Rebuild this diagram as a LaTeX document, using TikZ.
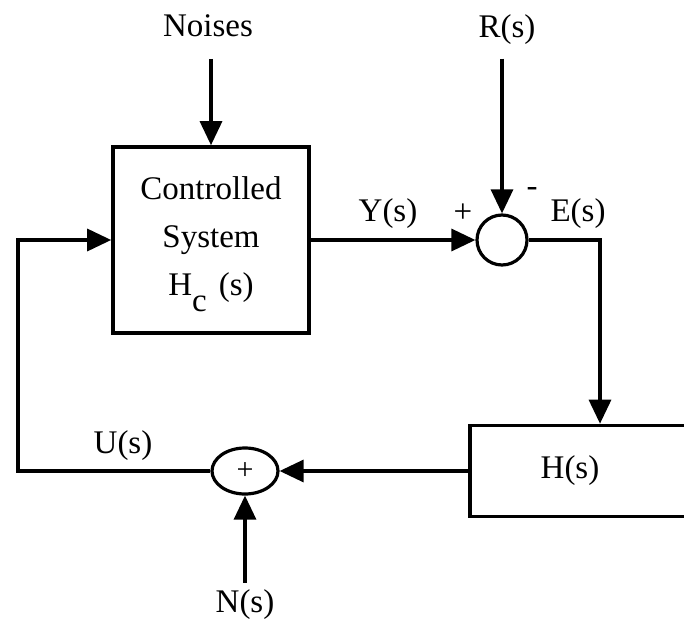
\documentclass[tikz,border=0pt]{standalone}
\usepackage{fontspec}
\setmainfont{Liberation Serif}
\usetikzlibrary{positioning,arrows.meta,shapes.geometric}

\begin{document}
\begin{tikzpicture}[x=0.5pt, y=-0.5pt, line width=1.6pt,
    font=\fontsize{16.5}{24}\selectfont,
    block/.style={draw, line width=1.8pt, inner sep=0pt},
    sumnode/.style={draw, circle, minimum size=25pt, inner sep=0pt},
    arr/.style={-{Triangle[length=12pt, width=11pt]}},
    sig/.style={anchor=base, inner sep=0pt}]
  \useasboundingbox (0,0) rectangle (684,620);

  % Blocks and summing points
  \node[block, minimum width=98pt, minimum height=93pt, align=center] (ctrl) at (211,240)
    {Controlled\\System\\H\raisebox{-8pt}[\height][0pt]{c}\hspace{6pt}(s)};
  \node[sumnode] (sumerr) at (502,240) {};
  \node[block, minimum width=115pt, minimum height=45.5pt] (ctrlr) at (585,471) {};
  \node (hlabel) at (570,471) {H(s)};
  \node[sumnode, ellipse, minimum width=33pt, minimum height=23pt,
    font=\fontsize{15}{15}\selectfont] (sumu) at (245,471) {+};

  % Signal labels
  \node[sig] (noises) at (208,37) {Noises};
  \node[sig] (rs) at (507,38) {R(s)};
  \node[sig] (ns) at (245,612) {N(s)};
  \node[sig] (ys) at (388,221) {Y(s)};
  \node[sig] (es) at (578,221) {E(s)};
  \node[sig] (us) at (123,453) {U(s)};
  \node (plus) at (463,213) {+};
  \node (minus) at (532,192) {-};

  \coordinate (fb) at (18,240);
  \coordinate (ecorner) at (600,240);

  % Connections
  \draw[arr, shorten <=10pt] (noises.south -| ctrl.north) -- (ctrl.north);
  \draw[arr, shorten <=6pt] (rs.south -| sumerr.north) -- (sumerr.north);
  \draw[arr] (ctrl.east) -- (sumerr.west);
  \draw[arr] (sumerr.east) -- (ecorner) -- (ecorner |- ctrlr.north);
  \draw[arr] (ctrlr.west) -- (sumu.east);
  \draw[arr] (sumu.west) -| (fb) -- (ctrl.west);
  \draw[arr, shorten <=2.5pt] (ns.north -| sumu.south) -- (sumu.south);
\end{tikzpicture}
\end{document}
